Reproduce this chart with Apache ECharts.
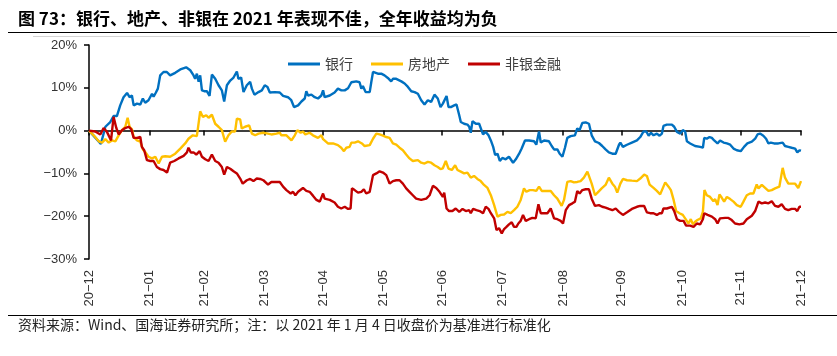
<!DOCTYPE html>
<html>
<head>
<meta charset="utf-8">
<script src="https://cdn.jsdelivr.net/npm/echarts@6/dist/echarts.min.js"></script>
<style>
html,body{margin:0;padding:0;background:#fff;}
#chart{width:837px;height:356px;}
</style>
</head>
<body>
<div id="chart"></div>
<script>
// x = day of year 2021 (0 = 2020-12-31); values in %
const monthEnds = [0, 31, 59, 90, 120, 151, 181, 212, 243, 273, 304, 334, 365];
const tickLabels = ['20-12','21-01','21-02','21-03','21-04','21-05','21-06','21-07','21-08','21-09','21-10','21-11','21-12'];
const yTicks = [-30, -20, -10, 0, 10, 20];
const seriesNames = ['银行', '房地产', '非银金融'];

const bank = [
[0,0],[6.1,-3.1],[8.4,0.9],[10.9,2.0],[12.6,3.4],[14.3,3.4],[16.0,5.9],[17.7,7.8],[19.5,8.8],[20.8,7.8],[22.0,8.2],[22.9,5.9],[24.6,6.3],[26.3,6.1],[27.6,7.5],[28.8,6.5],[30.5,7.1],[32.3,8.6],[33.1,7.9],[34.3,8.9],[35.3,9.8],[36.5,12.9],[38.2,13.7],[39.9,13.7],[41.6,12.9],[44.2,13.5],[46.8,14.3],[49.8,14.8],[51.9,14.1],[53.6,12.9],[54.4,12.1],[55.3,13.3],[56.2,11.4],[57.0,12.9],[57.9,9.4],[59.1,9.2],[60.4,9.2],[61.8,8.1],[63.0,13.1],[64.7,12.1],[66.4,10.6],[68.1,9.4],[69.3,6.8],[70.7,10.6],[72.4,11.7],[74.1,12.4],[75.8,13.8],[76.6,12.1],[78.0,12.4],[79.2,9.0],[80.9,10.6],[82.6,11.4],[83.5,9.8],[84.8,8.4],[86.9,9.0],[88.6,9.4],
[90.1,10.6],[91.5,10.2],[92.7,8.9],[95.2,9.0],[97.8,8.9],[99.5,8.1],[102.0,7.8],[103.7,7.1],[105.1,5.5],[106.0,5.1],[107.2,5.9],[108.9,6.8],[110.6,7.5],[111.4,9.2],[112.3,8.2],[114.0,8.4],[115.7,7.8],[117.4,7.5],[119.1,8.2],[120.0,9.4],[120.8,7.8],[123.4,8.2],[125.9,8.9],[127.6,9.8],[129.4,9.4],[131.1,9.4],[132.8,9.9],[134.5,11.3],[137.0,11.5],[138.7,11.3],[139.6,9.8],[140.4,10.4],[141.8,9.0],[143.9,9.0],[144.7,11.3],[145.6,13.7],[146.4,14.1],[148.1,13.3],[149.8,13.3],[151.5,12.9],[153.2,12.3],[154.9,11.5],[155.8,12.1],[157.5,12.1],[160.1,11.5],[161.8,11.0],[163.5,10.2],[165.2,9.2],[166.9,9.0],[168.6,8.6],[170.3,7.1],[172.0,6.1],[173.7,7.1],[175.4,6.7],[177.1,8.4],[178.8,7.5],[180.2,5.5],[181.4,6.3],
[183.3,8.1],[184.3,5.5],[185.5,5.5],[187.2,5.9],[188.4,6.1],[189.8,3.6],[190.6,2.0],[192.3,1.6],[194.0,1.4],[194.9,0.9],[195.7,-0.5],[196.6,2.2],[198.3,1.6],[200.0,1.6],[200.8,1.2],[202.0,-0.9],[203.4,-0.3],[204.8,-1.1],[206.0,-2.3],[207.2,-3.8],[208.2,-5.7],[209.4,-5.4],[210.6,-7.1],[211.9,-6.4],[213.6,-6.7],[215.3,-6.1],[217.4,-7.5],[218.8,-6.7],[220.5,-5.4],[221.8,-4.2],[223.5,-2.3],[225.6,-2.3],[228.2,-2.5],[229.3,-3.3],[230.7,-0.2],[231.6,-2.8],[233.3,-2.3],[235.8,-2.5],[237.2,-3.6],[238.4,-4.4],[240.1,-4.4],[241.3,-5.4],[242.7,-6.1],[244.0,-4.0],[245.2,-1.7],[246.9,-1.3],[249.1,-1.1],[250.3,0.5],[251.5,0.1],[252.9,1.8],[254.6,1.9],[256.3,1.6],[257.7,-1.1],[259.4,-2.5],[261.4,-2.9],[263.1,-3.6],[264.8,-4.4],[266.5,-5.1],[268.3,-5.4],[270.0,-5.4],[271.7,-3.3],
[272.4,-2.8],[273.7,-3.8],[275.8,-3.3],[278.3,-2.8],[280.9,-2.3],[282.6,-1.5],[284.3,-0.2],[285.7,-0.2],[286.9,-1.2],[288.1,-0.5],[289.4,-1.1],[291.1,-0.7],[292.5,-1.2],[293.7,-0.7],[294.5,1.1],[296.2,1.4],[298.8,1.4],[300.0,0.9],[301.4,-0.3],[303.1,-0.7],[304.4,0.1],[305.6,-0.2],[306.5,-2.5],[308.2,-3.0],[310.7,-3.6],[313.3,-3.8],[314.7,-4.0],[315.4,-1.7],[316.7,-1.9],[318.1,-1.5],[319.3,-1.7],[320.5,-2.3],[322.2,-3.0],[323.5,-2.3],[325.3,-2.8],[327.0,-3.0],[328.7,-3.3],[330.4,-4.2],[332.1,-4.6],[334.1,-4.8],[335.8,-3.8],[337.5,-3.0],[339.8,-2.6],[341.5,-1.9],[342.7,-0.9],[344.0,-0.7],[345.7,-1.2],[347.1,-1.9],[348.3,-3.0],[349.5,-2.8],[351.2,-3.0],[353.4,-3.0],[355.6,-2.8],[356.8,-3.6],[358.5,-3.8],[360.2,-4.0],[362.0,-4.2],[363.1,-5.1],[364.2,-4.6],[365,-4.7]
];

const realEstate = [
[0,0],[2.4,-1.1],[5.0,-2.5],[6.7,-2.8],[8.4,-2.0],[10.1,-2.8],[11.8,-2.3],[13.5,-2.5],[15.2,-1.1],[16.9,0.1],[18.6,0.9],[19.8,3.0],[20.8,0.9],[22.0,0.3],[22.9,-1.5],[24.6,-2.3],[26.3,-2.6],[27.6,-4.4],[28.8,-5.0],[30.5,-6.1],[32.3,-6.5],[34.0,-6.1],[35.7,-7.7],[37.4,-6.1],[39.1,-6.0],[41.6,-6.1],[44.2,-5.4],[46.8,-4.2],[49.3,-3.0],[51.0,-1.9],[53.2,-1.1],[55.3,-1.3],[56.2,-1.1],[57.0,4.5],[58.4,3.2],[60.1,3.6],[61.3,3.0],[63.0,3.7],[64.7,1.6],[66.4,0.9],[68.1,0.1],[69.8,-2.6],[71.5,-1.1],[73.2,-0.2],[74.9,-0.2],[75.8,2.8],[77.5,2.6],[78.3,0.5],[80.0,0.9],[82.1,1.2],[83.5,-0.7],[85.2,-1.1],[86.9,-0.7],[89.4,-0.5],
[90.1,-0.9],[91.8,-0.7],[93.5,-0.9],[96.1,-0.7],[97.8,-0.5],[98.6,-1.1],[101.2,-1.1],[103.8,-2.3],[105.5,-1.1],[106.8,0.1],[108.5,-0.5],[109.7,-0.2],[110.9,-0.9],[113.1,-0.5],[114.8,-1.1],[117.4,-1.7],[119.1,-1.1],[120.0,-2.0],[122.5,-3.0],[125.1,-3.0],[127.6,-3.4],[129.3,-4.0],[130.7,-4.8],[131.9,-4.0],[133.6,-3.8],[134.5,-2.8],[136.2,-2.8],[137.9,-2.5],[138.7,-2.3],[139.9,-3.0],[141.3,-3.6],[143.9,-3.4],[145.6,-1.9],[147.3,-0.7],[149.0,-0.9],[150.7,-1.2],[152.4,-1.5],[154.1,-1.7],[155.8,-3.0],[157.5,-3.3],[159.2,-4.0],[160.9,-4.6],[162.6,-5.6],[164.3,-6.5],[166.0,-7.1],[168.6,-6.9],[170.3,-7.5],[172.0,-7.7],[173.7,-7.3],[175.4,-7.5],[177.1,-8.1],[178.8,-8.5],[180.2,-9.0],[181.4,-8.8],
[182.9,-7.1],[184.3,-8.9],[186.0,-9.2],[187.7,-8.1],[188.9,-9.2],[190.6,-9.6],[192.3,-10.0],[194.0,-9.8],[195.7,-11.0],[197.4,-10.6],[199.1,-11.3],[200.8,-11.8],[202.5,-12.7],[204.3,-13.4],[206.0,-15.1],[207.7,-17.4],[209.4,-20.1],[211.1,-19.7],[212.8,-19.6],[214.5,-19.0],[216.2,-19.3],[217.9,-18.6],[219.6,-17.8],[221.3,-16.2],[223.0,-13.5],[224.2,-14.3],[225.9,-13.9],[227.6,-13.9],[229.3,-14.1],[230.7,-13.1],[232.1,-14.1],[234.1,-14.1],[236.7,-14.1],[238.4,-15.1],[240.1,-15.9],[242.3,-17.6],[243.5,-16.2],[245.2,-12.0],[246.9,-11.8],[248.6,-12.1],[250.3,-12.0],[252.0,-11.8],[253.7,-11.0],[255.5,-9.6],[256.3,-9.5],[257.7,-12.4],[259.4,-15.1],[261.1,-14.3],[262.8,-13.5],[264.8,-12.7],[266.5,-11.0],[268.3,-12.4],[269.6,-13.1],[270.8,-14.5],
[272.4,-12.4],[273.7,-11.3],[275.8,-11.6],[278.3,-11.7],[280.9,-11.8],[282.6,-11.2],[284.6,-10.3],[286.0,-10.6],[287.4,-12.6],[289.4,-13.4],[291.1,-14.1],[292.8,-14.9],[293.7,-15.2],[295.4,-12.1],[297.1,-13.1],[298.3,-13.9],[299.7,-16.2],[301.0,-18.8],[302.7,-19.3],[304.4,-19.7],[305.6,-20.5],[306.5,-20.4],[307.3,-21.7],[308.5,-20.7],[309.6,-21.9],[310.7,-21.3],[311.9,-20.9],[313.6,-20.5],[314.7,-19.0],[315.5,-13.9],[316.7,-15.1],[318.4,-15.5],[320.1,-16.5],[321.0,-16.0],[322.2,-17.4],[323.2,-14.9],[324.4,-15.7],[325.6,-16.6],[327.0,-15.5],[328.7,-16.0],[330.4,-16.6],[332.1,-17.4],[334.1,-17.8],[335.5,-16.6],[337.2,-15.1],[338.9,-14.7],[340.6,-14.7],[342.3,-12.6],[343.2,-13.5],[344.9,-12.7],[346.6,-13.4],[348.3,-14.1],[350.0,-13.9],[351.7,-13.5],[353.9,-13.1],[355.6,-8.7],[356.8,-11.0],[358.5,-12.4],[360.2,-12.4],[362.0,-12.4],[363.6,-13.4],[364.5,-13.1],[365,-11.8]
];

const nonBank = [
[0,0],[3.2,-0.2],[5.8,-0.9],[7.5,0.6],[9.2,-0.3],[11.3,-2.3],[12.6,3.2],[14.0,0.6],[15.2,-0.9],[16.9,0.1],[18.6,0.6],[20.3,0.9],[21.7,0.3],[22.9,-1.7],[24.6,-1.7],[26.3,-1.5],[27.1,-3.8],[28.3,-4.6],[29.7,-6.9],[31.4,-7.1],[33.1,-7.1],[34.8,-8.5],[36.5,-9.0],[38.2,-9.2],[40.0,-9.8],[41.6,-7.5],[43.7,-7.1],[45.9,-6.5],[48.5,-5.9],[50.2,-5.1],[51.0,-4.0],[52.2,-5.1],[53.6,-5.1],[55.0,-5.6],[56.7,-4.8],[57.9,-6.1],[59.6,-6.7],[61.3,-7.1],[63.0,-5.6],[64.7,-7.1],[66.4,-7.5],[68.1,-8.5],[69.3,-10.3],[70.7,-8.5],[72.4,-8.9],[74.1,-9.5],[75.8,-10.0],[77.5,-11.2],[78.8,-12.4],[80.9,-11.6],[82.6,-11.3],[84.3,-11.8],[86.0,-11.2],[87.7,-11.3],[89.4,-11.6],
[90.1,-11.8],[91.8,-12.6],[93.5,-12.0],[96.1,-12.0],[97.8,-12.0],[99.5,-13.1],[101.2,-13.9],[103.4,-14.7],[104.6,-14.3],[105.8,-15.1],[107.2,-14.3],[109.7,-13.4],[111.4,-14.1],[113.1,-14.3],[114.8,-15.2],[116.6,-16.2],[118.3,-16.6],[120.0,-14.7],[120.8,-15.9],[123.4,-16.2],[125.9,-16.8],[127.6,-17.8],[129.3,-18.2],[131.1,-17.8],[132.8,-18.3],[134.1,-18.2],[134.8,-13.5],[136.2,-13.9],[137.9,-14.5],[139.6,-14.3],[140.9,-13.7],[142.1,-14.7],[143.9,-14.3],[144.7,-13.9],[145.6,-10.4],[147.3,-10.0],[149.0,-9.5],[150.7,-9.8],[152.4,-10.4],[154.1,-12.4],[155.8,-11.8],[157.5,-11.6],[159.2,-11.6],[160.9,-12.4],[162.6,-13.5],[164.3,-14.3],[166.0,-15.1],[167.7,-15.9],[170.3,-16.2],[172.9,-15.9],[174.6,-15.1],[176.3,-12.9],[178.0,-13.4],[179.7,-14.3],[181.4,-15.5],
[182.1,-14.5],[183.3,-18.2],[184.6,-18.8],[186.3,-18.8],[188.0,-18.2],[189.8,-19.0],[191.5,-18.3],[193.2,-18.8],[194.9,-18.6],[195.7,-19.3],[196.9,-18.3],[198.6,-18.6],[200.3,-18.8],[202.0,-19.3],[203.4,-17.8],[204.8,-18.3],[206.0,-19.3],[207.7,-20.5],[208.9,-23.2],[210.2,-22.8],[211.6,-24.0],[212.8,-23.0],[214.0,-22.5],[215.3,-21.9],[216.7,-21.4],[217.9,-22.5],[219.1,-22.5],[220.1,-21.7],[221.3,-21.1],[222.5,-19.7],[223.9,-21.1],[225.6,-20.7],[227.3,-20.4],[229.0,-20.5],[230.4,-17.2],[231.6,-19.3],[233.3,-19.3],[235.0,-19.3],[236.7,-18.2],[238.4,-20.5],[240.1,-20.7],[241.8,-21.1],[243.0,-21.7],[244.4,-18.6],[246.1,-17.4],[247.8,-17.0],[249.1,-16.6],[250.3,-14.1],[251.5,-14.7],[252.9,-13.9],[254.6,-13.7],[256.3,-13.7],[257.7,-15.9],[259.4,-17.6],[261.4,-17.4],[263.1,-17.8],[264.8,-18.0],[266.5,-18.3],[268.3,-18.6],[270.0,-18.2],[271.7,-19.0],
[272.4,-18.8],[273.7,-19.7],[275.8,-19.1],[278.3,-18.3],[280.9,-17.8],[282.6,-17.6],[284.6,-17.6],[286.0,-19.1],[287.7,-19.3],[289.4,-19.3],[291.1,-19.7],[292.5,-19.3],[293.7,-19.3],[294.5,-18.2],[296.2,-18.2],[298.8,-17.8],[300.0,-18.8],[301.4,-20.7],[303.1,-21.1],[304.8,-21.1],[306.1,-22.2],[308.2,-22.2],[309.9,-22.5],[311.6,-21.7],[313.3,-21.9],[314.7,-20.7],[315.4,-19.3],[317.1,-19.7],[319.3,-20.1],[321.0,-20.7],[322.2,-21.7],[323.5,-20.5],[326.1,-20.4],[327.8,-20.4],[329.5,-20.9],[331.2,-21.7],[333.4,-21.9],[335.5,-21.7],[337.2,-20.7],[339.8,-19.9],[341.5,-18.8],[343.2,-16.6],[344.9,-17.0],[346.6,-16.8],[348.3,-17.0],[350.0,-16.5],[351.7,-17.6],[353.4,-17.8],[355.1,-17.2],[356.8,-18.3],[358.5,-18.6],[360.2,-18.3],[362.0,-18.3],[363.1,-18.8],[364.2,-17.8],[365,-17.8]
];

const titleText = '图 73：银行、地产、非银在 2021 年表现不佳，全年收益均为负';
const sourceText = '资料来源：Wind、国海证券研究所；注：以 2021 年 1 月 4 日收盘价为基准进行标准化';

const chart = echarts.init(document.getElementById('chart'), null, {renderer: 'canvas'});
const latin = '"Liberation Sans", Arial, sans-serif';
const cjk = '"Noto Sans CJK SC", sans-serif';
const colors = ['#0070C0', '#FFC000', '#C00000'];

function yLabel(v) {
  return (v < 0 ? '\u2212' + (-v) : String(v)) + '%';
}
function xLabel(v) {
  const i = monthEnds.indexOf(v);
  return i >= 0 ? tickLabels[i].replace('-', '\u2212') : '';
}

chart.setOption({
  animation: false,
  backgroundColor: '#fff',
  color: colors,
  grid: {left: 89, right: 36, top: 45, bottom: 97, containLabel: false},
  legend: {
    data: seriesNames.map(function (n) { return {name: n, icon: 'rect'}; }),
    left: 283, top: 52,
    itemWidth: 32, itemHeight: 3, itemGap: 18,
    textStyle: {fontSize: 14, color: '#404040', fontFamily: cjk}
  },
  xAxis: [{
    type: 'value', min: 0, max: 365, position: 'bottom',
    axisLine: {show: false, onZero: false},
    axisTick: {show: false},
    splitLine: {show: false},
    axisLabel: {
      customValues: monthEnds, rotate: 90, margin: 11,
      fontSize: 13, color: '#333', fontFamily: latin,
      formatter: xLabel
    }
  }, {
    type: 'value', min: 0, max: 365, position: 'top',
    axisLine: {show: true, onZero: true, lineStyle: {color: '#000', width: 1.5}},
    axisTick: {show: true, inside: true, length: 5, customValues: monthEnds, lineStyle: {color: '#000', width: 1.5}},
    axisLabel: {show: false},
    splitLine: {show: false}
  }],
  yAxis: {
    type: 'value', min: -30, max: 20, interval: 10,
    axisLine: {show: true, onZero: false, lineStyle: {color: '#000', width: 1.5}},
    axisTick: {show: true, length: 5, lineStyle: {color: '#000', width: 1.5}},
    splitLine: {show: false},
    axisLabel: {margin: 12, fontSize: 13, color: '#333', fontFamily: latin, formatter: yLabel}
  },
  series: [
    {name: seriesNames[0], type: 'line', xAxisIndex: 0, data: bank, symbol: 'none', lineStyle: {width: 2.4, color: colors[0]}},
    {name: seriesNames[1], type: 'line', xAxisIndex: 0, data: realEstate, symbol: 'none', lineStyle: {width: 2.4, color: colors[1]}},
    {name: seriesNames[2], type: 'line', xAxisIndex: 0, data: nonBank, symbol: 'none', lineStyle: {width: 2.4, color: colors[2]}}
  ],
  graphic: [
    {type: 'text', left: 18, top: 10, style: {text: titleText, fontSize: 17, fontWeight: 'bold', fill: '#000', fontFamily: cjk}},
    {type: 'line', shape: {x1: 8, y1: 32.5, x2: 837, y2: 32.5}, style: {stroke: '#000', lineWidth: 1.2}},
    {type: 'line', shape: {x1: 33, y1: 36.5, x2: 810, y2: 36.5}, style: {stroke: '#d4d4d4', lineWidth: 1}},
    {type: 'line', shape: {x1: 8, y1: 315.5, x2: 837, y2: 315.5}, style: {stroke: '#000', lineWidth: 1.2}},
    {type: 'text', left: 18, top: 318, style: {text: sourceText, fontSize: 14, fill: '#222', fontFamily: cjk}}
  ]
});
</script>
</body>
</html>
